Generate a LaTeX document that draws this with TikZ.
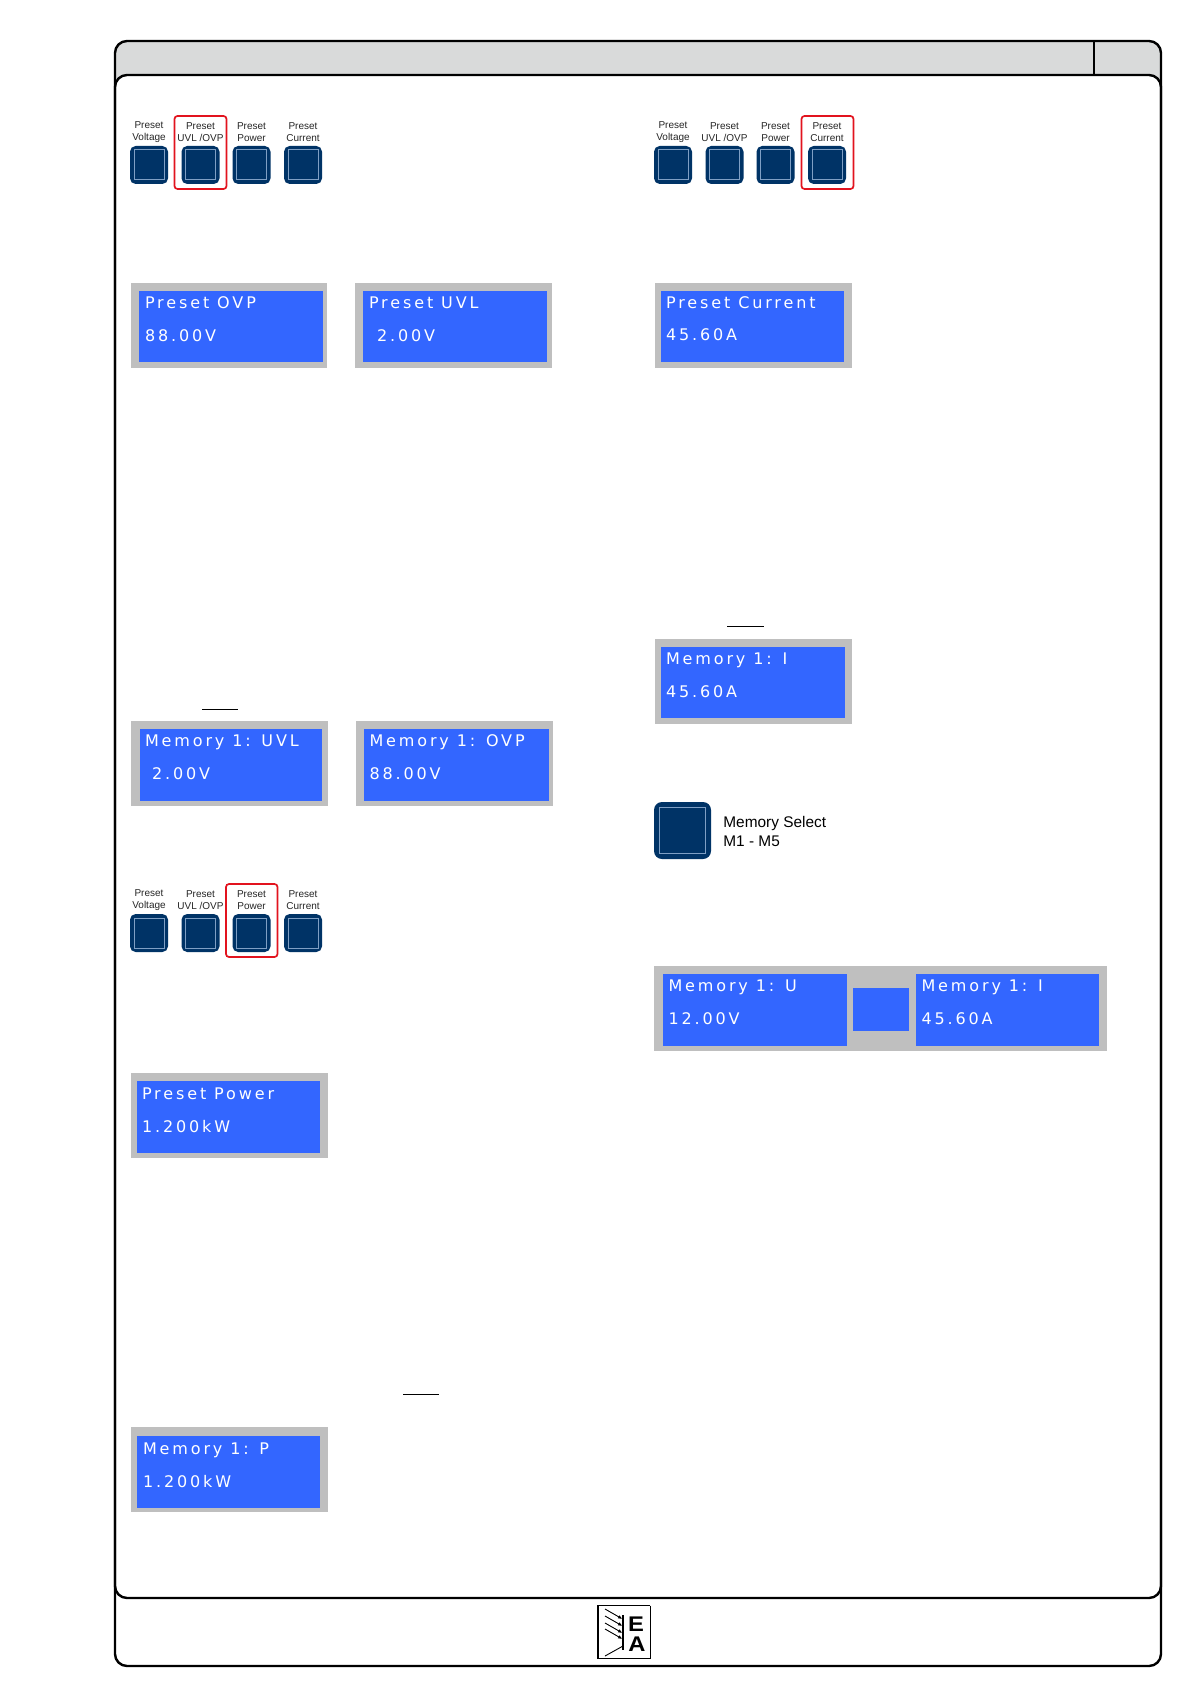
\documentclass[tikz,border=0pt]{standalone}
\usepackage{fontspec}
\setmainfont{Liberation Sans}
\newfontfamily\lcdfont[LetterSpace=18]{DejaVu Sans}
\definecolor{hdrgray}{HTML}{D9DADA}
\definecolor{lcdframe}{HTML}{BFBFBF}
\definecolor{lcdblue}{HTML}{3366FF}
\definecolor{keynavy}{HTML}{003366}
\definecolor{keyline}{HTML}{7F9FC4}
\definecolor{markred}{HTML}{E2131E}
\usetikzlibrary{arrows.meta}
\tikzset{
  pageframe/.style={draw=black,line width=1.2pt,rounded corners=6pt},
  framepanel/.style={fill=lcdframe},
  screen/.style={fill=lcdblue},
  lcdtext/.style={anchor=base west,inner sep=0pt,outer sep=0pt,text=white,font=\lcdfont\fontsize{8}{8}\selectfont},
  keybtn/.style={fill=keynavy,rounded corners=2.8pt,minimum size=19pt,inner sep=0pt},
  keyinner/.style={draw=keyline,line width=0.5pt,minimum size=15pt,inner sep=0pt},
  keybig/.style={fill=keynavy,rounded corners=4pt,minimum size=28.5pt,inner sep=0pt},
  keybiginner/.style={draw=keyline,line width=0.7pt,minimum size=23pt,inner sep=0pt},
  keylabel/.style={font=\fontsize{5}{6.2}\selectfont,align=center,inner sep=0pt,text=black!85},
  selbox/.style={draw=markred,line width=0.85pt,rounded corners=1.5pt},
  sellabel/.style={font=\fontsize{7.7}{10}\selectfont,anchor=base west,inner sep=0pt},
  rule/.style={draw=black,line width=0.4pt},
  logoline/.style={draw=black,line width=0.45pt},
  logoarrow/.style={draw=black,line width=0.45pt,-{Latex[length=2.2pt,width=1.8pt]}},
  logotext/.style={font=\fontsize{10.6}{10.6}\bfseries\selectfont,inner sep=0pt,xscale=1.12},
}
\newcommand{\keyrow}[3]{%
  \node[keybtn] (#1a) at (#2,#3) {};
  \node[keyinner] (#1ai) at (#1a) {};
  \node[keylabel] (#1al) at (#2,#3-33) {Preset\\Voltage};
  \node[keybtn] (#1b) at (#2+51.5,#3) {};
  \node[keyinner] (#1bi) at (#1b) {};
  \node[keylabel] (#1bl) at (#2+51.5,#3-33) {Preset\\UVL /OVP};
  \node[keybtn] (#1c) at (#2+102.5,#3) {};
  \node[keyinner] (#1ci) at (#1c) {};
  \node[keylabel] (#1cl) at (#2+102.5,#3-33) {Preset\\Power};
  \node[keybtn] (#1d) at (#2+154,#3) {};
  \node[keyinner] (#1di) at (#1d) {};
  \node[keylabel] (#1dl) at (#2+154,#3-33) {Preset\\Current};
}
\newcommand{\lcdpanel}[9]{%
  \fill[framepanel] (#2,#3) rectangle (#4,#5);
  \fill[screen] (#6,#7) rectangle (#8,#9);
}
\begin{document}
\begin{tikzpicture}[x=0.5pt,y=-0.5pt]
\useasboundingbox (0,0) rectangle (1191,1684);
\fill[white] (0,0) rectangle (1191,1684);

% page frame
\fill[hdrgray,rounded corners=6pt] (115,41) rectangle (1161,100);
\draw[pageframe,fill=white] (115,75) rectangle (1161,1598);
\draw[pageframe,fill=none] (115,41) rectangle (1161,1666);
\draw[black,line width=1.1pt] (1094,41) -- (1094,75);

% key rows
\keyrow{p}{149}{165}
\draw[selbox] (174.5,116) rectangle (226.5,189);
\keyrow{q}{673}{165}
\draw[selbox] (801.5,116) rectangle (853.5,189);
\keyrow{r}{149}{933}
\draw[selbox] (226,884) rectangle (277.5,957);

% displays
\lcdpanel{d1}{131}{283}{327}{368}{139}{291}{323}{362}
\node[lcdtext] (d1a) at (145,309) {Preset OVP};
\node[lcdtext] (d1b) at (145,342) {88.00V};

\lcdpanel{d2}{355}{283}{552}{368}{363}{291}{547}{362}
\node[lcdtext] (d2a) at (369,309) {Preset UVL};
\node[lcdtext] (d2b) at (377,342) {2.00V};

\lcdpanel{d3}{655}{283}{852}{368}{661}{291}{844}{362}
\node[lcdtext] (d3a) at (666,309) {Preset Current};
\node[lcdtext] (d3b) at (666,341) {45.60A};

\draw[rule] (727,626.5) -- (764,626.5);
\lcdpanel{d4}{655}{639}{852}{724}{661}{647}{845}{718}
\node[lcdtext] (d4a) at (666,664) {Memory 1: I};
\node[lcdtext] (d4b) at (666,697) {45.60A};

\draw[rule] (202,709.5) -- (238,709.5);
\lcdpanel{d5}{131}{721}{328}{806}{140}{729}{322}{801}
\node[lcdtext] (d5a) at (145,746.5) {Memory 1: UVL};
\node[lcdtext] (d5b) at (152,779) {2.00V};

\lcdpanel{d6}{355.5}{721}{553}{806}{364}{729}{549}{801}
\node[lcdtext] (d6a) at (369.5,746.5) {Memory 1: OVP};
\node[lcdtext] (d6b) at (369.5,779) {88.00V};

\lcdpanel{d7}{131}{1073}{327.5}{1158}{136.5}{1080.5}{320}{1153}
\node[lcdtext] (d7a) at (142,1099) {Preset Power};
\node[lcdtext] (d7b) at (142,1132) {1.200kW};

\draw[rule] (403,1394.5) -- (439,1394.5);
\lcdpanel{d8}{131}{1427}{327.5}{1512}{137}{1436}{320}{1508}
\node[lcdtext] (d8a) at (143,1454.5) {Memory 1: P};
\node[lcdtext] (d8b) at (143,1487) {1.200kW};

% memory select
\node[keybig] (msel) at (682.5,830.5) {};
\node[keybiginner] (mseli) at (msel) {};
\node[sellabel] (msel1) at (723,827.5) {Memory Select};
\node[sellabel] (msel2) at (723,846.5) {M1 - M5};

% wide display
\lcdpanel{d9}{654}{966}{1107}{1051}{663}{973.5}{847}{1046}
\fill[screen] (853,988) rectangle (909,1031);
\fill[screen] (916,973.5) rectangle (1099,1046);
\node[lcdtext] (d9a) at (668.5,991) {Memory 1: U};
\node[lcdtext] (d9b) at (668.5,1024) {12.00V};
\node[lcdtext] (d9c) at (921.5,991) {Memory 1: I};
\node[lcdtext] (d9d) at (921.5,1024) {45.60A};

% logo
\draw[black,line width=0.9pt] (650,1605.5) -- (598,1605.5) -- (598,1658.5) -- (650,1658.5);
\draw[black,line width=0.4pt] (650,1605.5) -- (650,1658.5);
\draw[black,line width=0.8pt] (623,1615) -- (623,1650);
\foreach \yy in {1609,1616,1623,1629}{
  \draw[logoarrow] (605,\yy) -- (622.5,\yy+10);
}
\draw[logoline] (605,1656) -- (623,1646);
\node[logotext] (logoE) at (636,1624.5) {E};
\node[logotext] (logoA) at (637,1644.5) {A};
\end{tikzpicture}
\end{document}
